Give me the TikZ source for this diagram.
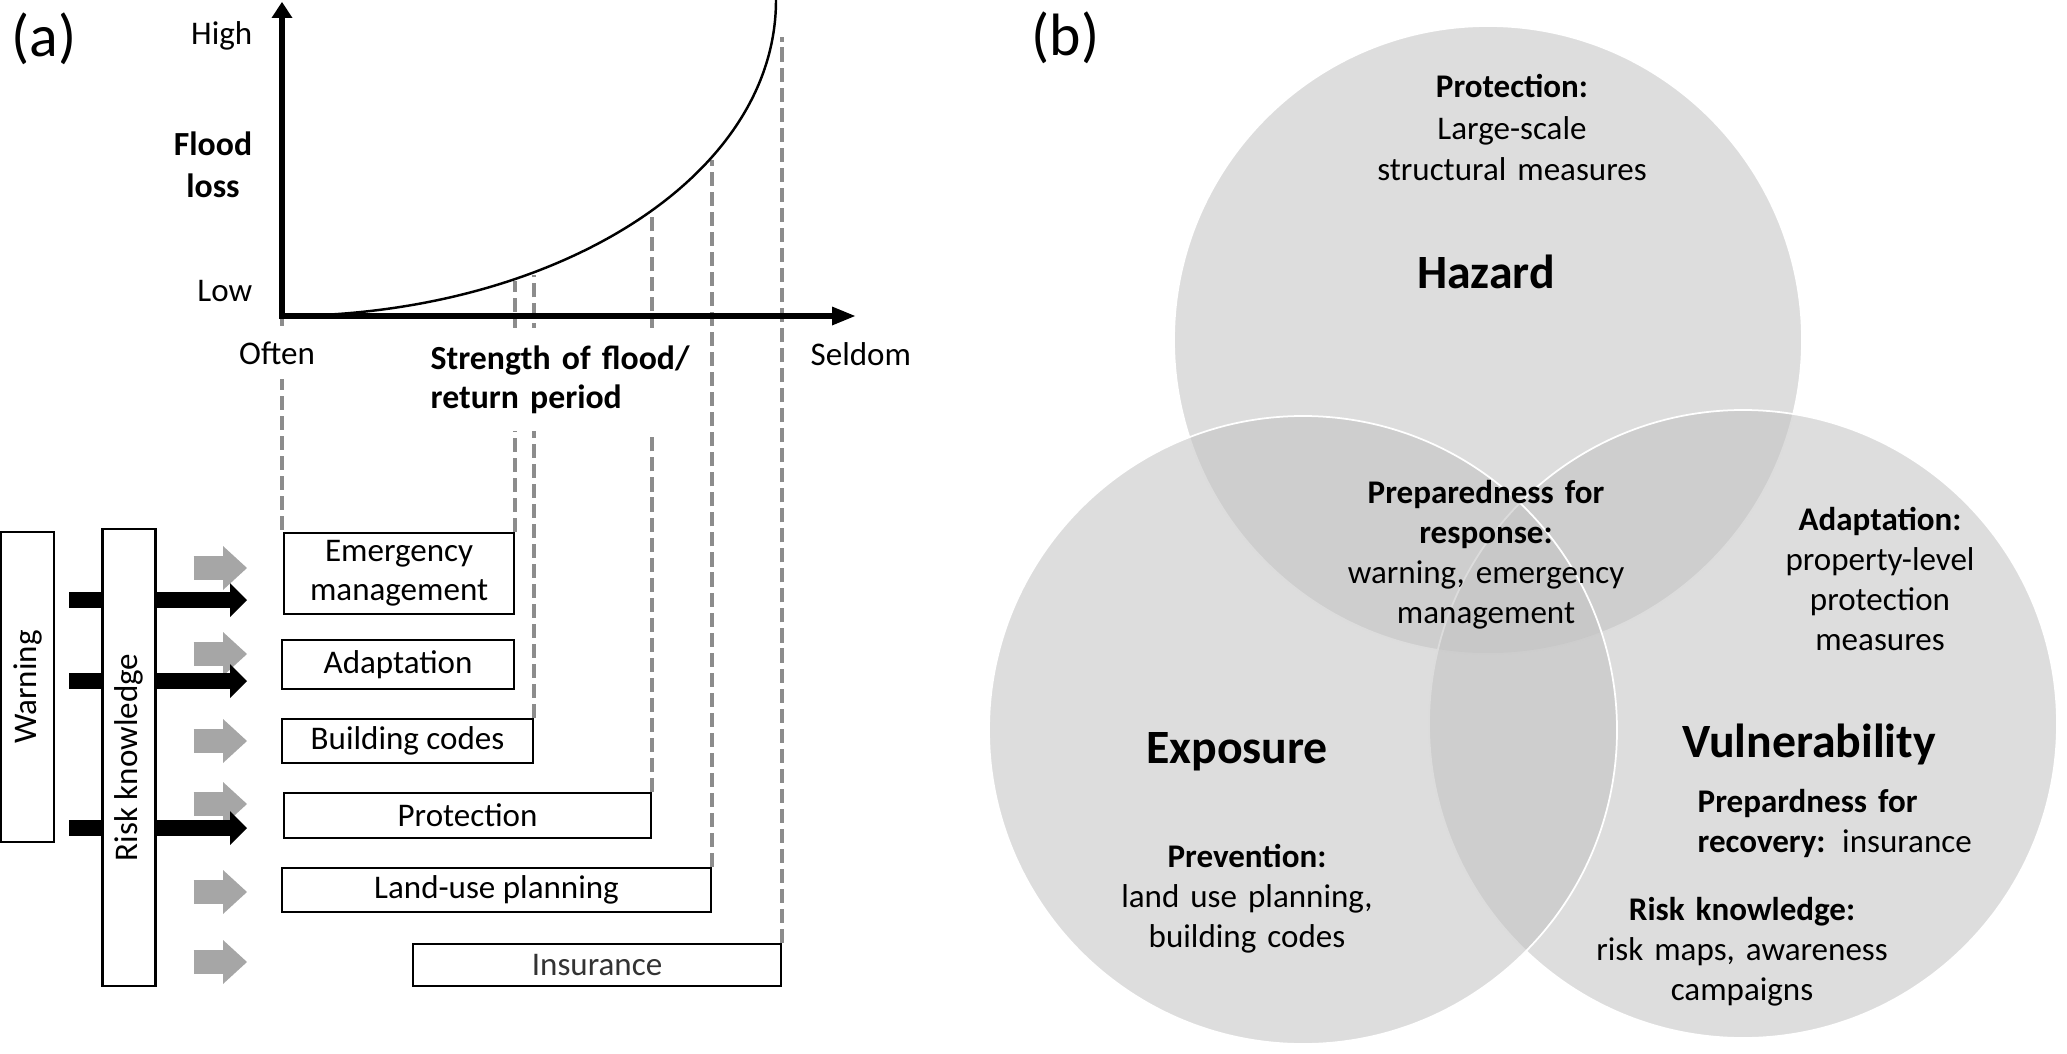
\documentclass[tikz,border=0pt]{standalone}
\usepackage{fontspec}
\setmainfont{Carlito}
\usetikzlibrary{arrows.meta}

\definecolor{guidegray}{RGB}{140,140,140}
\definecolor{arrowgray}{RGB}{166,166,166}
\definecolor{venngray}{RGB}{195,195,195}

\pgfdeclarelayer{front}
\pgfsetlayers{main,front}

\tikzset{
  % boxes of panel (a)
  measure/.style={draw, line width=0.6pt, fill=white, inner sep=0pt, anchor=north west,
    align=center, font=\fontsize{9.4}{11.1}\selectfont},
  sidebar/.style={draw, line width=0.6pt, fill=white, inner sep=0pt,
    minimum width=0.53cm, font=\fontsize{9.4}{11.1}\selectfont},
  axislabel/.style={inner sep=0pt, font=\fontsize{9.4}{11.4}\selectfont},
  guide/.style={guidegray, line width=1pt, dash pattern=on 4pt off 1.7pt},
  warnarrow/.style={line width=0.165cm, -{Triangle[length=0.17cm,width=0.34cm,line width=0pt]}},
  knowarrow/.style={arrowgray, line width=0.24cm, -{Triangle[length=0.24cm,width=0.44cm,line width=0pt]}},
  % panel (b)
  venn/.style={fill=venngray, fill opacity=0.57, draw=white, line width=0.5pt},
  venntitle/.style={inner sep=0pt, anchor=base, font=\fontsize{13.6}{16}\selectfont\bfseries},
  venntext/.style={inner sep=0pt, anchor=base, align=center, text width=3.6cm,
    font=\fontsize{9.4}{11.4}\selectfont},
  panel/.style={inner sep=0pt, anchor=base west, font=\fontsize{17}{20}\selectfont},
}

\begin{document}
\begin{tikzpicture}
  \useasboundingbox (0,0) rectangle (20.67,-10.54);

  % (a) flood loss curve
  \node[panel] (pa) at (0.11,-0.57) {(a)};
  \coordinate (o) at (2.82,-3.16);
  \coordinate (ytop) at (2.82,-0.02);
  \coordinate (xend) at (8.55,-3.16);

  % measures
  \node[measure, minimum width=2.30cm, minimum height=0.81cm] (em) at (2.83,-5.32) {Emergency\\management};
  \node[measure, minimum width=2.32cm, minimum height=0.49cm] (ad) at (2.81,-6.39) {Adaptation};
  \node[measure, minimum width=2.51cm, minimum height=0.44cm] (bc) at (2.81,-7.18) {Building codes};
  \node[measure, minimum width=3.67cm, minimum height=0.45cm] (pr) at (2.83,-7.92) {Protection};
  \node[measure, minimum width=4.29cm, minimum height=0.44cm] (lu) at (2.81,-8.67) {Land-use planning};
  \node[measure, minimum width=3.68cm, minimum height=0.42cm, text=black!80] (in) at (4.12,-9.43) {Insurance};

  % dashed guides from the curve down to the boxes
  \draw[guide] (o) -- (o |- em.north);
  \foreach \b/\c in {em/-2.81, bc/-2.75, pr/-2.13, lu/-1.60}
    \draw[guide] (\b.north east) -- (\b.north east |- 0,\c);
  \draw[guide] (in.north east) -- (in.north east |- 0,-0.37);

  % axes and curve
  \draw[line width=0.065cm, {Triangle[length=0.16cm,width=0.21cm,line width=0pt]}-{Triangle[length=0.23cm,width=0.19cm,line width=0pt]}] (ytop) -- (o) -- (xend);
  \draw[line width=0.7pt] (o) .. controls (5.5,-3.16) and (7.76,-1.8) .. (7.76,0);

  \node[axislabel, anchor=base east] (hi) at (2.53,-0.45) {High};
  \node[axislabel, anchor=base, align=center, text width=1cm, font=\fontsize{9.6}{11.9}\selectfont\bfseries] (fl) at (2.13,-1.56) {Flood\\loss};
  \node[axislabel, anchor=base east] (lo) at (2.53,-3.02) {Low};
  \node[axislabel, anchor=base, fill=white, inner ysep=0.15cm, inner xsep=0.05cm] (of) at (2.77,-3.64) {Often};
  \node[axislabel, anchor=base west, fill=white, inner ysep=0.17cm, inner xsep=0.05cm, align=left, text width=2.6cm, font=\fontsize{9.6}{11.3}\selectfont\bfseries] (st) at (4.25,-3.69) {Strength of flood/\\return period};
  \node[axislabel, anchor=base west] (se) at (8.10,-3.65) {Seldom};

  % warning and risk knowledge
  \node[sidebar, minimum height=3.10cm] (warn) at (0.275,-6.87) {\rotatebox{90}{Warning}};
  \begin{pgfonlayer}{front}
    \node[sidebar, minimum height=4.57cm] (risk) at (1.29,-7.575) {\rotatebox{90}{Risk knowledge}};
  \end{pgfonlayer}
  \coordinate (tipx) at (2.47,0);
  \foreach \y in {-5.68,-6.54,-7.41,-8.04,-8.92,-9.62}
    \draw[knowarrow] ([xshift=3.7mm]risk.east |- 0,\y) -- (tipx |- 0,\y);
  \foreach \y in {-6.00,-6.81,-8.28}
    \draw[warnarrow] ([xshift=1.4mm]warn.east |- 0,\y) -- (tipx |- 0,\y);

  % (b) hazard, exposure, vulnerability
  \node[panel] (pb) at (10.31,-0.56) {(b)};
  \draw[venn] (14.88,-3.40) circle (3.14);
  \draw[venn] (17.43,-7.24) circle (3.14);
  \draw[venn] (13.03,-7.30) circle (3.14);

  \node[venntext, font=\fontsize{9.4}{11.7}\selectfont] (prot) at (15.12,-0.98) {\textbf{Protection:}\\Large-scale\\structural measures};
  \node[venntitle] (hz) at (14.86,-2.88) {Hazard};
  \node[venntext] (resp) at (14.86,-5.03) {\textbf{Preparedness for}\\\textbf{response:}\\warning, emergency\\management};
  \node[venntext] (adapt) at (18.80,-5.30) {\textbf{Adaptation:}\\property-level\\protection\\measures};
  \node[venntitle] (ex) at (12.37,-7.63) {Exposure};
  \node[venntext] (prev) at (12.47,-8.67) {\textbf{Prevention:}\\land use planning,\\building codes};
  \node[venntitle] (vu) at (18.09,-7.57) {Vulnerability};
  \node[venntext, anchor=base west, align=left, text width=3cm] (reco) at (16.97,-8.12) {\textbf{Prepardness for}\\\textbf{recovery:} insurance};
  \node[venntext] (know) at (17.42,-9.20) {\textbf{Risk knowledge:}\\risk maps, awareness\\campaigns};
\end{tikzpicture}
\end{document}
